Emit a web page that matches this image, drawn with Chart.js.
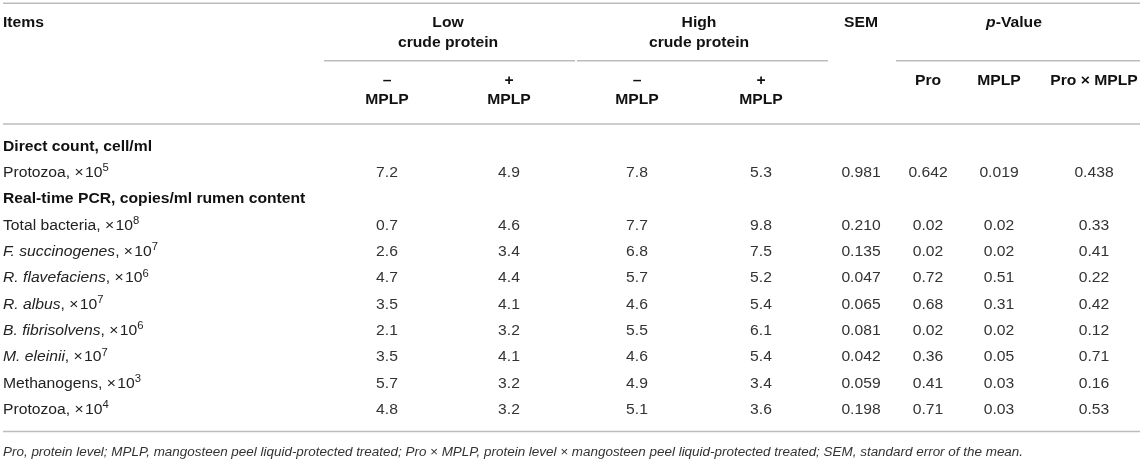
<!DOCTYPE html>
<html>
<head>
<meta charset="utf-8">
<script src="https://cdn.jsdelivr.net/npm/chart.js@4.4.1/dist/chart.umd.min.js"></script>
<style>
html,body{margin:0;padding:0;background:#fff;}
#wrap{width:1143px;height:466px;}
</style>
</head>
<body>
<div id="wrap"><canvas id="c" width="1143" height="466"></canvas></div>
<script>
// ---------- DATA ----------
const sections = ["Direct count, cell/ml", "Real-time PCR, copies/ml rumen content"];
const items = ["Protozoa", "Total bacteria", "F. succinogenes", "R. flavefaciens", "R. albus",
               "B. fibrisolvens", "M. eleinii", "Methanogens", "Protozoa"];
const itemSection = [0, 1, 1, 1, 1, 1, 1, 1, 1];
const exponents = [5, 8, 7, 6, 7, 6, 7, 3, 4];
const speciesName = [false, false, true, true, true, true, true, false, false];

const lowMinus  = [7.2, 0.7, 2.6, 4.7, 3.5, 2.1, 3.5, 5.7, 4.8];
const lowPlus   = [4.9, 4.6, 3.4, 4.4, 4.1, 3.2, 4.1, 3.2, 3.2];
const highMinus = [7.8, 7.7, 6.8, 5.7, 4.6, 5.5, 4.6, 4.9, 5.1];
const highPlus  = [5.3, 9.8, 7.5, 5.2, 5.4, 6.1, 5.4, 3.4, 3.6];
const sem       = [0.981, 0.210, 0.135, 0.047, 0.065, 0.081, 0.042, 0.059, 0.198];
const pPro      = [0.642, 0.02, 0.02, 0.72, 0.68, 0.02, 0.36, 0.41, 0.71];
const pMPLP     = [0.019, 0.02, 0.02, 0.51, 0.31, 0.02, 0.05, 0.03, 0.03];
const pInter    = [0.438, 0.33, 0.41, 0.22, 0.42, 0.12, 0.71, 0.16, 0.53];

const columnLabels = ["– MPLP (Low)", "+ MPLP (Low)", "– MPLP (High)", "+ MPLP (High)", "SEM", "Pro", "MPLP", "Pro × MPLP"];
const pDecimals = [3, 2, 2, 2, 2, 2, 2, 2, 2];
const footnote = "Pro, protein level; MPLP, mangosteen peel liquid-protected treated; Pro × MPLP, protein level × mangosteen peel liquid-protected treated; SEM, standard error of the mean.";

// ---------- LAYOUT ----------
const L = {
  colX: [387, 509, 637, 761, 861, 928, 999, 1094],
  labelX: 3,
  firstRowY: 146.7,
  rowStep: 26.35,
  font: "'Liberation Sans', Arial, Helvetica, sans-serif",
  size: 14,
  footSize: 12,
  stretch: 1.12
};
const series = [lowMinus, lowPlus, highMinus, highPlus, sem, pPro, pMPLP, pInter];
const decimalsFor = (c, r) => c < 4 ? 1 : (c === 4 ? 3 : pDecimals[r]);

// display rows: section headers interleaved with items
const displayRows = [];
items.forEach((name, i) => {
  if (i === 0 || itemSection[i] !== itemSection[i - 1]) displayRows.push({type: 'section', idx: itemSection[i]});
  displayRows.push({type: 'item', idx: i});
});
const rowYOfItem = [];
const rowYOfSection = [];
displayRows.forEach((d, k) => {
  const y = L.firstRowY + k * L.rowStep;
  if (d.type === 'item') rowYOfItem[d.idx] = y; else rowYOfSection[d.idx] = y;
});

function fontStr(style, size) {
  let s = '';
  if (style.includes('i')) s += 'italic ';
  if (style.includes('b')) s += 'bold ';
  return s + size + 'px ' + L.font;
}
function drawRich(ctx, segs, x, y, align, color, size) {
  size = size || L.size;
  const k = L.stretch;
  let w = 0;
  segs.forEach(s => { ctx.font = fontStr(s.st || '', s.sup ? size * 0.72 : size); s.w = ctx.measureText(s.t).width * k; w += s.w; });
  let cx = align === 'center' ? x - w / 2 : (align === 'right' ? x - w : x);
  ctx.fillStyle = color;
  ctx.textAlign = 'left';
  ctx.textBaseline = 'middle';
  segs.forEach(s => {
    ctx.font = fontStr(s.st || '', s.sup ? size * 0.72 : size);
    ctx.save();
    ctx.translate(cx, s.sup ? y - size * 0.32 : y);
    ctx.scale(k, 1);
    ctx.fillText(s.t, 0, 0);
    ctx.restore();
    cx += s.w;
  });
}

const datasets = series.map((vals, c) => ({
  label: columnLabels[c],
  data: vals.map((v, r) => ({x: L.colX[c], y: rowYOfItem[r], v: v, r: r})),
  pointRadius: 0, pointHoverRadius: 0, showLine: false
}));
datasets.push({
  label: 'Items',
  data: items.map((n, r) => ({x: L.labelX, y: rowYOfItem[r], r: r})),
  pointRadius: 0, pointHoverRadius: 0, showLine: false
});

const tablePlugin = {
  id: 'tablePlugin',
  afterDatasetsDraw(chart) {
    const ctx = chart.ctx;
    const xs = chart.scales.x, ys = chart.scales.y;
    const X = v => xs.getPixelForValue(v), Y = v => ys.getPixelForValue(v);
    ctx.save();
    // rules
    ctx.strokeStyle = '#bcbcbc';
    ctx.lineWidth = 1.6;
    const hline = (x1, x2, y) => { ctx.beginPath(); ctx.moveTo(X(x1), Y(y)); ctx.lineTo(X(x2), Y(y)); ctx.stroke(); };
    hline(3, 1140, 3.3);
    hline(324, 575, 60.8);
    hline(577, 828, 60.8);
    hline(896, 1140, 60.8);
    hline(3, 1140, 124);
    hline(3, 1140, 431.5);

    // header
    const hc = '#111';
    drawRich(ctx, [{t: 'Items', st: 'b'}], X(3), Y(22.7), 'left', hc);
    const lowC = (L.colX[0] + L.colX[1]) / 2, highC = (L.colX[2] + L.colX[3]) / 2;
    drawRich(ctx, [{t: 'Low', st: 'b'}], X(lowC), Y(22.7), 'center', hc);
    drawRich(ctx, [{t: 'crude protein', st: 'b'}], X(lowC), Y(43.5), 'center', hc);
    drawRich(ctx, [{t: 'High', st: 'b'}], X(highC), Y(22.7), 'center', hc);
    drawRich(ctx, [{t: 'crude protein', st: 'b'}], X(highC), Y(43.5), 'center', hc);
    drawRich(ctx, [{t: 'SEM', st: 'b'}], X(L.colX[4]), Y(22.7), 'center', hc);
    drawRich(ctx, [{t: 'p', st: 'bi'}, {t: '-Value', st: 'b'}], X(1014), Y(22.7), 'center', hc);
    ['–', '+', '–', '+'].forEach((s, c) => {
      drawRich(ctx, [{t: s, st: 'b'}], X(L.colX[c]), Y(81.5), 'center', hc);
      drawRich(ctx, [{t: 'MPLP', st: 'b'}], X(L.colX[c]), Y(100.5), 'center', hc);
    });
    drawRich(ctx, [{t: 'Pro', st: 'b'}], X(L.colX[5]), Y(81.5), 'center', hc);
    drawRich(ctx, [{t: 'MPLP', st: 'b'}], X(L.colX[6]), Y(81.5), 'center', hc);
    drawRich(ctx, [{t: 'Pro × MPLP', st: 'b'}], X(L.colX[7]), Y(81.5), 'center', hc);

    // sections
    sections.forEach((s, i) => drawRich(ctx, [{t: s, st: 'b'}], X(L.labelX), Y(rowYOfSection[i]), 'left', hc));

    // cells via dataset elements
    chart.data.datasets.forEach((ds, di) => {
      const meta = chart.getDatasetMeta(di);
      meta.data.forEach((el, j) => {
        const d = ds.data[j];
        if (di < series.length) {
          drawRich(ctx, [{t: d.v.toFixed(decimalsFor(di, d.r))}], el.x, el.y, 'center', '#333');
        } else {
          const r = d.r;
          const segs = speciesName[r]
            ? [{t: items[r], st: 'i'}, {t: ', ×\u200A10'}, {t: String(exponents[r]), sup: true}]
            : [{t: items[r] + ', ×\u200A10'}, {t: String(exponents[r]), sup: true}];
          drawRich(ctx, segs, el.x, el.y, 'left', '#222');
        }
      });
    });

    // footnote
    drawRich(ctx, [{t: footnote, st: 'i'}], X(3), Y(452.7), 'left', '#333', L.footSize);
    ctx.restore();
  }
};

new Chart(document.getElementById('c'), {
  type: 'scatter',
  data: {datasets},
  options: {
    responsive: false,
    animation: false,
    events: [],
    layout: {padding: 0},
    plugins: {legend: {display: false}, tooltip: {enabled: false}},
    scales: {
      x: {type: 'linear', min: 0, max: 1143, display: false},
      y: {type: 'linear', min: 0, max: 466, reverse: true, display: false}
    }
  },
  plugins: [tablePlugin]
});
</script>
</body>
</html>
